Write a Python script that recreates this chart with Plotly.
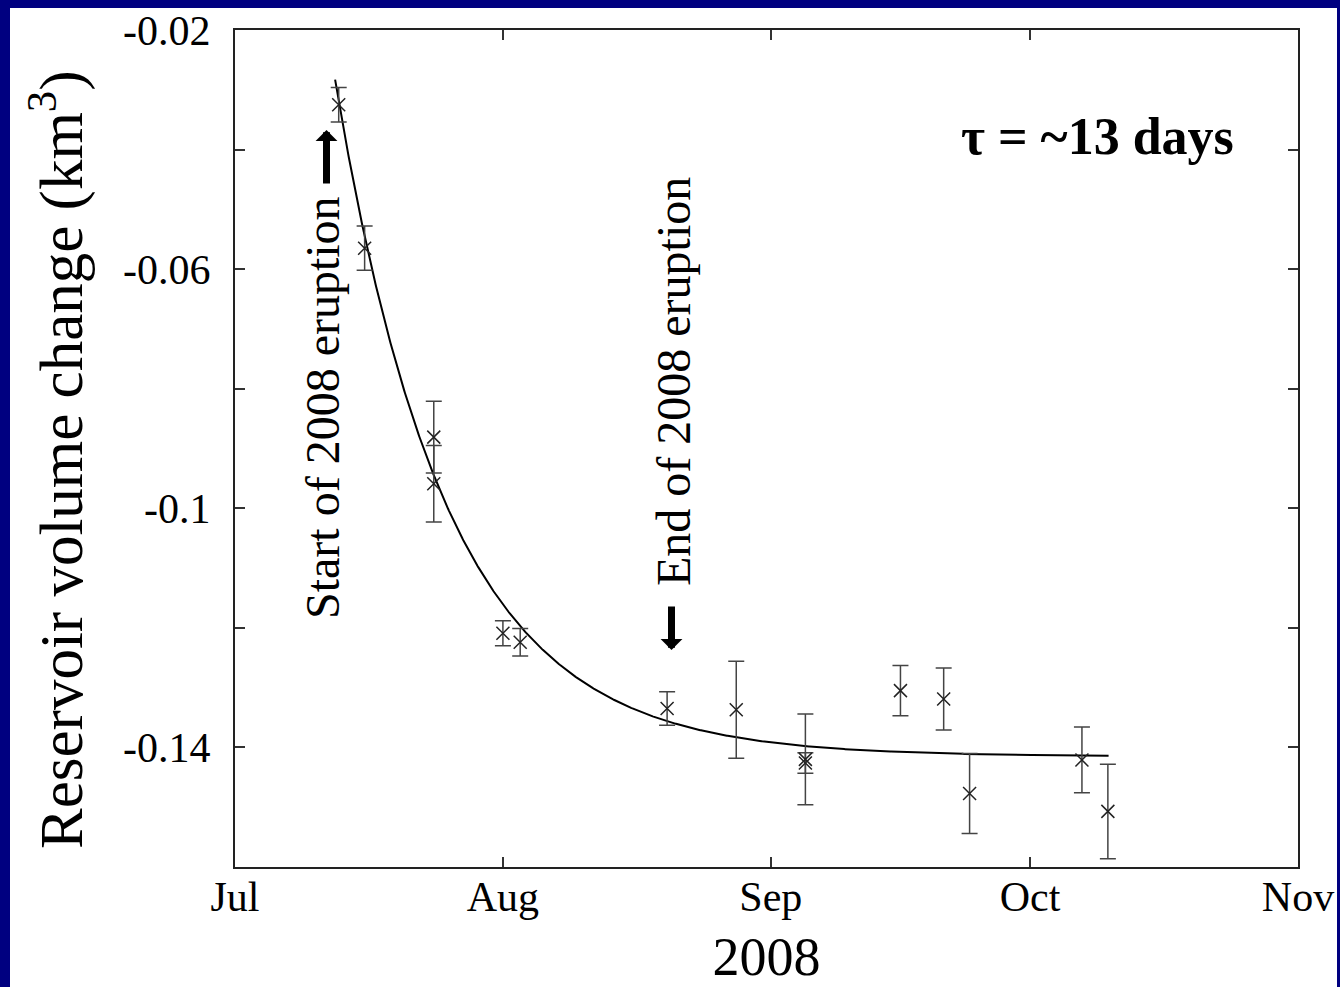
import numpy as np
import pandas as pd
import plotly.graph_objects as go

# Reservoir volume change estimates, 2008 (km^3) with 1-sigma uncertainties
obs_dates = ["2008-07-13", "2008-07-16", "2008-07-24", "2008-07-24", "2008-08-01",
             "2008-08-03", "2008-08-20", "2008-08-28", "2008-09-05", "2008-09-05",
             "2008-09-16", "2008-09-21", "2008-09-24", "2008-10-07", "2008-10-10"]
volume_change = [-0.0325, -0.0565, -0.0881, -0.0959, -0.1209,
                 -0.1224, -0.1335, -0.1337, -0.1420, -0.1426,
                 -0.1305, -0.1319, -0.1477, -0.1421, -0.1507]
volume_error = [0.0029, 0.0037, 0.0060, 0.0064, 0.0021,
                0.0023, 0.0028, 0.0081, 0.0076, 0.0017,
                0.0042, 0.0052, 0.0067, 0.0055, 0.0079]

# Exponential decay fit: v(t) = v_inf + (v0 - v_inf) * exp(-(t - t0) / tau)
fit_start = "2008-07-12 14:00"
fit_end = "2008-10-10 02:00"
fit_v0 = -0.0283
fit_vinf = -0.1415
tau_days = 13

month_ticks = ["2008-07-01", "2008-08-01", "2008-09-01", "2008-10-01", "2008-11-01"]
month_labels = ["Jul", "Aug", "Sep", "Oct", "Nov"]
y_tickvals = [-0.16, -0.14, -0.12, -0.10, -0.08, -0.06, -0.04, -0.02]
y_ticktext = ["", "-0.14", "", "-0.1", "", "-0.06", "", "-0.02"]

SERIF = "Liberation Serif, Times New Roman, serif"
NAVY = "#000080"

fit_t = pd.date_range(fit_start, fit_end, freq="2h")
elapsed = (fit_t - pd.Timestamp(fit_start)) / pd.Timedelta(days=1)
fit_v = fit_vinf + (fit_v0 - fit_vinf) * np.exp(-np.asarray(elapsed) / tau_days)

fig = go.Figure()
fig.add_trace(go.Scatter(
    x=fit_t, y=fit_v, mode="lines",
    line=dict(color="black", width=2), showlegend=False,
))
fig.add_trace(go.Scatter(
    x=pd.to_datetime(obs_dates), y=volume_change, mode="markers",
    marker=dict(symbol="x-thin", size=13, line=dict(color="#222222", width=1.5)),
    error_y=dict(type="data", array=volume_error, visible=True,
                 color="#444444", thickness=1.5, width=8),
    showlegend=False,
))

W, H = 1340, 987
L, R, T, B = 235, 42, 30, 120
pw, ph = W - L - R, H - T - B


def px(x):
    return (x - L) / pw


def py(y):
    return (H - B - y) / ph


# white slide panel inside the navy frame
fig.add_shape(type="rect", xref="paper", yref="paper",
              x0=px(10), x1=px(1337), y0=py(987), y1=py(8),
              fillcolor="white", line=dict(width=0), layer="below")

annotations = [
    dict(text="Reservoir volume change (km<sup>3</sup>)", x=px(57), y=py(460),
         textangle=-90, font=dict(family=SERIF, size=61, color="black")),
    dict(text="Start of 2008 eruption", x=px(322), y=py(408), textangle=-90,
         font=dict(family=SERIF, size=48, color="black")),
    dict(text="End of 2008 eruption", x=px(673), y=py(382), textangle=-90,
         font=dict(family=SERIF, size=48, color="black")),
    dict(text="<b>τ = ~13 days</b>", x=px(1097), y=py(137),
         font=dict(family=SERIF, size=52, color="black")),
]
for a in annotations:
    fig.add_annotation(xref="paper", yref="paper", xanchor="center", yanchor="middle",
                       showarrow=False, **a)

# eruption arrows
fig.add_annotation(xref="paper", yref="paper", x=px(326.5), y=py(130), text="",
                   showarrow=True, arrowhead=1, arrowwidth=7, arrowsize=0.52,
                   arrowcolor="black", ax=0, ay=55, standoff=0)
fig.add_annotation(xref="paper", yref="paper", x=px(671.5), y=py(650), text="",
                   showarrow=True, arrowhead=1, arrowwidth=7, arrowsize=0.52,
                   arrowcolor="black", ax=0, ay=-45, standoff=0)

axis_common = dict(showline=True, linecolor="#222222", linewidth=2, mirror="ticks",
                   ticks="inside", ticklen=10, tickwidth=1.5, tickcolor="#333333",
                   showgrid=False, zeroline=False,
                   tickfont=dict(family=SERIF, size=42, color="black"))

fig.update_xaxes(type="date", range=["2008-07-01", "2008-11-01"],
                 tickvals=month_ticks, ticktext=month_labels,
                 title=dict(text="2008", font=dict(family=SERIF, size=54, color="black"),
                            standoff=20),
                 ticklabelstandoff=-8, **axis_common)
fig.update_yaxes(range=[-0.16, -0.02], tickvals=y_tickvals, ticktext=y_ticktext,
                 ticklabelstandoff=14, **axis_common)

fig.update_layout(
    width=W, height=H, autosize=False,
    margin=dict(l=L, r=R, t=T, b=B, autoexpand=False),
    paper_bgcolor=NAVY, plot_bgcolor="white",
)

fig.write_html("out.html")
